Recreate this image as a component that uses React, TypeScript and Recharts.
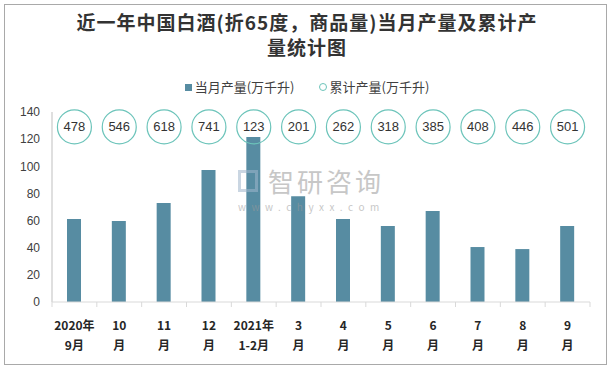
import React from 'react';
import { ComposedChart, Bar, Line, XAxis, YAxis } from 'recharts';

const catLine1 = ['2020年', '10', '11', '12', '2021年', '3', '4', '5', '6', '7', '8', '9'];
const catLine2 = ['9月', '月', '月', '月', '1-2月', '月', '月', '月', '月', '月', '月', '月'];
const monthly = [61.2, 59.7, 73, 97.3, 121.6, 78, 61.2, 56, 67, 40.5, 39, 56];
const cumulative = [478, 546, 618, 741, 123, 201, 262, 318, 385, 408, 446, 501];
const yTicks = [0, 20, 40, 60, 80, 100, 120, 140];

const title1 = '近一年中国白酒(折65度，商品量)当月产量及累计产';
const title2 = '量统计图';
const legendBar = '当月产量(万千升)';
const legendCum = '累计产量(万千升)';

const data = catLine1.map((c, i) => ({
  name: c + catLine2[i],
  l1: c,
  l2: catLine2[i],
  monthly: monthly[i],
  cumulative: cumulative[i],
}));

const W = 614;
const H = 369;
const LEFT = 52;
const RIGHT_M = 24;
const BAND = (W - LEFT - RIGHT_M) / catLine1.length;
const LABEL_LEVEL = 129;
const FONT = '"Noto Sans CJK SC", "Noto Sans", sans-serif';

const XTick = (props: any) => {
  const { x, y, payload, index } = props;
  const d = data[index] || data.find((r) => r.name === payload.value);
  return (
    <g>
      <line x1={x - BAND / 2} x2={x - BAND / 2} y1={y} y2={y + 5} stroke="#d9d9d9" />
      {index === data.length - 1 && (
        <line x1={x + BAND / 2} x2={x + BAND / 2} y1={y} y2={y + 5} stroke="#d9d9d9" />
      )}
      <text x={x} y={y + 28} textAnchor="middle" fontSize={12} fontWeight="bold" fill="#262626" fontFamily={FONT}>
        {d ? d.l1 : ''}
      </text>
      <text x={x} y={y + 48} textAnchor="middle" fontSize={12} fontWeight="bold" fill="#262626" fontFamily={FONT}>
        {d ? d.l2 : ''}
      </text>
    </g>
  );
};

const CircleDot = (props: any) => {
  const { cx, cy, payload, index } = props;
  if (cx == null || cy == null) return null;
  return (
    <g key={'c' + index}>
      <circle cx={cx} cy={cy} r={17} fill="none" stroke="#6cc4ba" strokeWidth={1.2} />
      <text x={cx} y={cy + 4.5} textAnchor="middle" fontSize={13} fill="#333333" fontFamily='"Liberation Sans", sans-serif'>
        {payload.cumulative}
      </text>
    </g>
  );
};

export default function App() {
  return (
    <div style={{ position: 'absolute', left: 0, top: 0, width: W, height: H, background: '#fff', fontFamily: FONT }}>
      <div
        style={{
          position: 'absolute', left: 4, top: 4, width: 603, height: 361,
          border: '1px solid #a9a9a9', boxSizing: 'border-box',
        }}
      />
      <div style={{ position: 'absolute', left: 0, top: 9, width: W, textAlign: 'center', fontSize: 19, fontWeight: 'bold', color: '#333', lineHeight: '25px', letterSpacing: 1 }}>
        <div>{title1}</div>
        <div>{title2}</div>
      </div>
      <div style={{ position: 'absolute', left: 0, top: 78, width: W, display: 'flex', justifyContent: 'center', alignItems: 'center', fontSize: 13, color: '#404040', lineHeight: '18px' }}>
        <span style={{ display: 'inline-block', width: 7, height: 7, background: '#578ca2', marginRight: 3 }} />
        <span>{legendBar}</span>
        <span style={{ display: 'inline-block', width: 8, height: 8, border: '1px solid #6cc4ba', borderRadius: '50%', marginLeft: 24, marginRight: 3, boxSizing: 'border-box' }} />
        <span>{legendCum}</span>
      </div>
      <div style={{ position: 'absolute', left: 0, top: 0 }}>
        <ComposedChart width={W} height={H} data={data} margin={{ top: 112, right: RIGHT_M, bottom: 7, left: 0 }}>
          <YAxis
            domain={[0, 140]}
            ticks={yTicks}
            width={LEFT}
            tickLine={false}
            tickSize={0}
            tickMargin={12}
            axisLine={{ stroke: '#bfbfbf' }}
            tick={{ fontSize: 12, fill: '#404040', fontFamily: '"Liberation Sans", sans-serif' }}
            interval={0}
          />
          <XAxis
            dataKey="name"
            height={60}
            interval={0}
            tickLine={false}
            tickSize={0}
            tickMargin={0}
            axisLine={{ stroke: '#d9d9d9' }}
            tick={<XTick />}
          />
          <Bar dataKey="monthly" fill="#578ca2" barSize={14} isAnimationActive={false} />
          <Line
            dataKey={() => LABEL_LEVEL}
            stroke="none"
            dot={<CircleDot />}
            activeDot={false}
            isAnimationActive={false}
          />
        </ComposedChart>
      </div>
      <div style={{ position: 'absolute', left: 238, top: 162, pointerEvents: 'none', opacity: 0.55 }}>
        <div style={{ display: 'flex', alignItems: 'center' }}>
          <div style={{ width: 20, height: 22, border: '3px solid #9fb6cc', boxSizing: 'border-box', marginRight: 10 }} />
          <span style={{ fontSize: 26, color: '#9a9a9a', letterSpacing: 3 }}>智研咨询</span>
        </div>
        <div style={{ fontSize: 10, color: '#9a9a9a', letterSpacing: 5.5, marginTop: 0 }}>www.chyxx.com</div>
      </div>
    </div>
  );
}
